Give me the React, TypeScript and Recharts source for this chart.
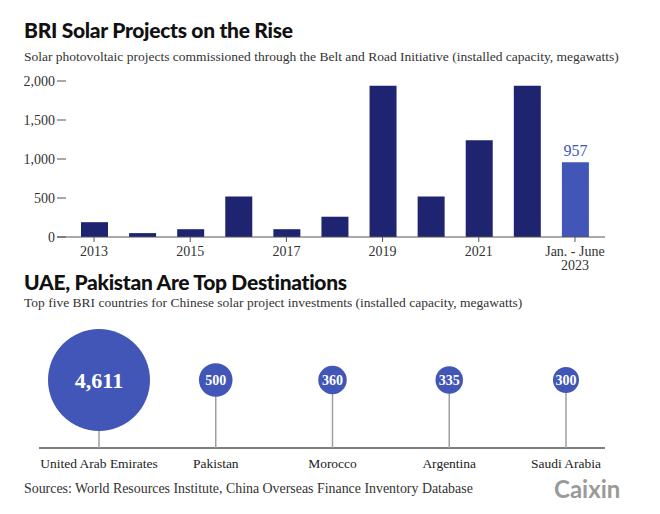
import React from 'react';
import {
  BarChart,
  Bar,
  Cell,
  XAxis,
  YAxis,
  ScatterChart,
  Scatter,
  ZAxis,
} from 'recharts';

// top chart: installed capacity by year (MW)
const years = ['2013', '2014', '2015', '2016', '2017', '2018', '2019', '2020', '2021', '2022', 'Jan. - June\n2023'];
const capacity = [190, 50, 100, 520, 100, 260, 1940, 520, 1240, 1940, 957];
const yTicks = [0, 500, 1000, 1500, 2000];

// bottom chart: top five destinations (MW)
const countries = ['United Arab Emirates', 'Pakistan', 'Morocco', 'Argentina', 'Saudi Arabia'];
const investments = [4611, 500, 360, 335, 300];

const NAVY = '#1f2470';
const BLUE = '#4156b6';
const SERIF = '"Liberation Serif", serif';
const SANS = 'Lato, sans-serif';

const barData = years.map((year, i) => ({ year, value: capacity[i] }));
const bubbleData = countries.map((country, i) => ({ country, value: investments[i], level: 1 }));

const LAST = years.length - 1;
const MAX_R = 51;

// bubble chart layout
const B_H = 160;
const B_MARGIN = { top: 60, right: 55, left: 39, bottom: 8 };
const B_XAXIS_H = 24;
const STEM = B_H - B_MARGIN.top - B_MARGIN.bottom - B_XAXIS_H;

const YTick = (props: any) => {
  const { x, y, payload } = props;
  return (
    <g>
      <text x={x} y={y} dy="0.35em" textAnchor="end" fill="#333" fontSize={14} fontFamily={SERIF}>
        {payload.value.toLocaleString('en-US')}
      </text>
      <line x1={x + 2} x2={x + 11} y1={y} y2={y} stroke="#555" strokeWidth={1} />
    </g>
  );
};

const XTick = (props: any) => {
  const { x, y, payload } = props;
  const lines = String(payload.value).split('\n');
  return (
    <text x={x} y={y} textAnchor="middle" fill="#333" fontSize={14} fontFamily={SERIF}>
      {lines.map((l, i) => (
        <tspan key={i} x={x} dy={i === 0 ? '0.71em' : 14}>
          {l}
        </tspan>
      ))}
    </text>
  );
};

const ValueLabel = (props: any) => {
  const { x, y, width, value, index } = props;
  if (index !== LAST) return null;
  return (
    <text x={x + width / 2} y={y - 6} textAnchor="middle" fill={BLUE} fontSize={16} fontFamily={SERIF}>
      {value}
    </text>
  );
};

const Bubble = (props: any) => {
  const { cx, cy, size, payload } = props;
  const r = size ? Math.sqrt(size / Math.PI) : MAX_R * Math.sqrt(payload.value / investments[0]);
  const big = r > 30;
  return (
    <g>
      <line x1={cx} x2={cx} y1={cy} y2={cy + STEM} stroke="#a0a0a0" strokeWidth={1.5} />
      <circle cx={cx} cy={cy} r={r} fill={BLUE} />
      <text
        x={cx}
        y={cy}
        dy="0.35em"
        textAnchor="middle"
        fill="#fff"
        fontWeight={700}
        fontSize={big ? 22 : 14}
        fontFamily={SERIF}
      >
        {payload.value.toLocaleString('en-US')}
      </text>
    </g>
  );
};

const title: React.CSSProperties = {
  position: 'absolute',
  left: 24,
  margin: 0,
  fontFamily: SANS,
  fontWeight: 900,
  fontSize: 21,
  letterSpacing: -0.3,
  color: '#111',
  lineHeight: '24px',
  whiteSpace: 'nowrap',
};

const sub: React.CSSProperties = {
  position: 'absolute',
  left: 24,
  fontFamily: SERIF,
  fontSize: 13.5,
  color: '#333',
  lineHeight: '16px',
  whiteSpace: 'nowrap',
};

export default function App() {
  return (
    <div style={{ position: 'relative', width: 660, height: 514, margin: -8, background: '#fff', overflow: 'hidden' }}>
      <div style={{ ...title, top: 18 }}>BRI Solar Projects on the Rise</div>
      <div style={{ ...sub, top: 49 }}>
        Solar photovoltaic projects commissioned through the Belt and Road Initiative (installed capacity, megawatts)
      </div>

      <div style={{ position: 'absolute', left: 0, top: 70 }}>
        <BarChart width={660} height={210} data={barData} margin={{ top: 11, right: 55, left: 0, bottom: 3 }}>
          <XAxis
            dataKey="year"
            interval={1}
            padding={{ left: 13, right: 6 }}
            axisLine={{ stroke: '#555' }}
            tickLine={{ stroke: '#555' }}
            tickSize={5}
            tickMargin={4}
            height={40}
            tick={<XTick />}
          />
          <YAxis
            width={57}
            domain={[0, 2000]}
            ticks={yTicks}
            axisLine={false}
            tickLine={false}
            tickSize={0}
            tickMargin={2}
            tick={<YTick />}
          />
          <Bar dataKey="value" barSize={27} isAnimationActive={false} label={<ValueLabel />}>
            {barData.map((d, i) => (
              <Cell key={d.year} fill={i === LAST ? BLUE : NAVY} />
            ))}
          </Bar>
        </BarChart>
      </div>

      <div style={{ ...title, top: 270 }}>UAE, Pakistan Are Top Destinations</div>
      <div style={{ ...sub, top: 295 }}>
        Top five BRI countries for Chinese solar project investments (installed capacity, megawatts)
      </div>

      <div style={{ position: 'absolute', left: 0, top: 320 }}>
        <ScatterChart width={660} height={B_H} data={bubbleData} margin={B_MARGIN}>
          <XAxis
            dataKey="country"
            type="category"
            scale="point"
            allowDuplicatedCategory={false}
            padding={{ left: 60, right: 39 }}
            axisLine={{ stroke: '#555', strokeWidth: 1.5 }}
            tickLine={false}
            tickMargin={4}
            height={B_XAXIS_H}
            tick={{ fill: '#222', fontSize: 13.5, fontFamily: SERIF }}
          />
          <YAxis dataKey="level" type="number" domain={[0, 1]} hide />
          <ZAxis dataKey="value" type="number" domain={[0, investments[0]]} range={[0, Math.PI * MAX_R * MAX_R]} />
          <Scatter data={bubbleData} shape={<Bubble />} isAnimationActive={false} />
        </ScatterChart>
      </div>

      <div style={{ ...sub, top: 481, fontSize: 13.9 }}>
        Sources: World Resources Institute, China Overseas Finance Inventory Database
      </div>
      <div
        style={{
          position: 'absolute',
          left: 554,
          top: 475,
          fontFamily: SANS,
          fontWeight: 700,
          fontSize: 24,
          color: '#9a9a9a',
          lineHeight: '28px',
        }}
      >
        Caixin
      </div>
    </div>
  );
}
